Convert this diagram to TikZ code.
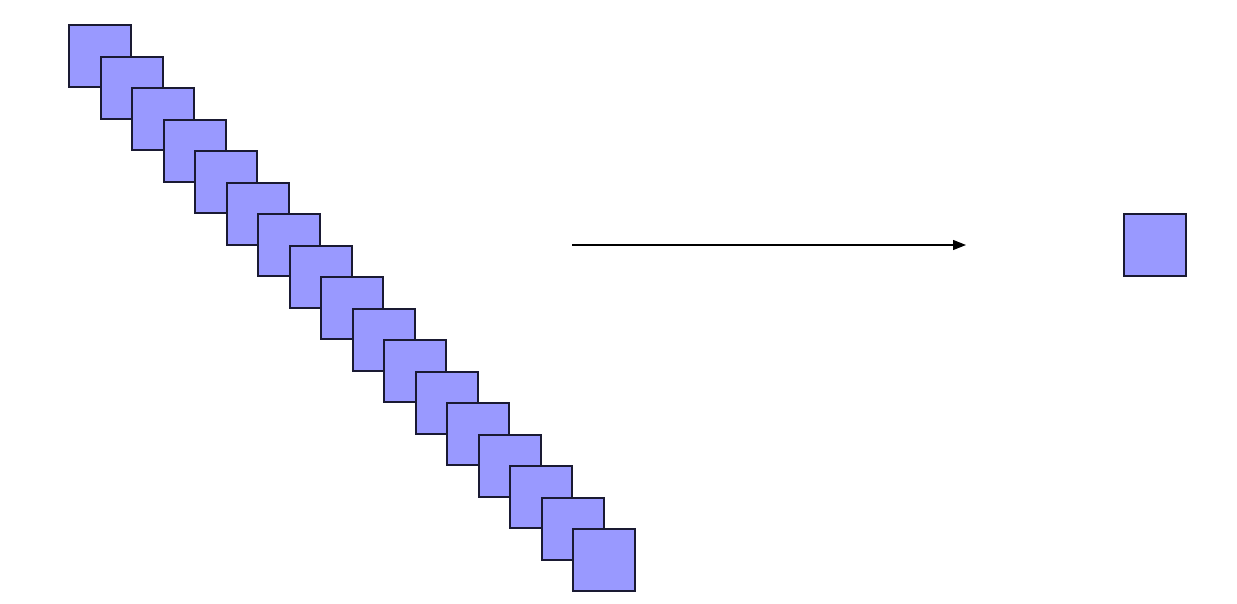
\documentclass[tikz,border=0pt]{standalone}
\usetikzlibrary{arrows.meta}
\definecolor{boxfill}{HTML}{9999FF}
\definecolor{boxline}{HTML}{1A1A33}
\tikzset{
  sqbox/.style={draw=boxline, line width=1.4pt, fill=boxfill, minimum size=62pt, inner sep=0pt, outer sep=0pt},
  flowarrow/.style={draw=black, line width=1.2pt, -{Triangle[length=13pt,width=10pt]}}
}
\begin{document}
\begin{tikzpicture}[x=1pt,y=-1pt]
\useasboundingbox (0,0) rectangle (1237,603);
\foreach \i in {0,...,16}{
  \pgfmathsetmacro{\off}{round(31.5*\i)}
  \node[sqbox] (s\i) at ({100+\off},{56+\off}) {};
}
\node[sqbox] (out) at (1155,245) {};
\coordinate (a0) at (572,245);
\coordinate (a1) at (966,245);
\draw[flowarrow] (a0) -- (a1);
\end{tikzpicture}
\end{document}
